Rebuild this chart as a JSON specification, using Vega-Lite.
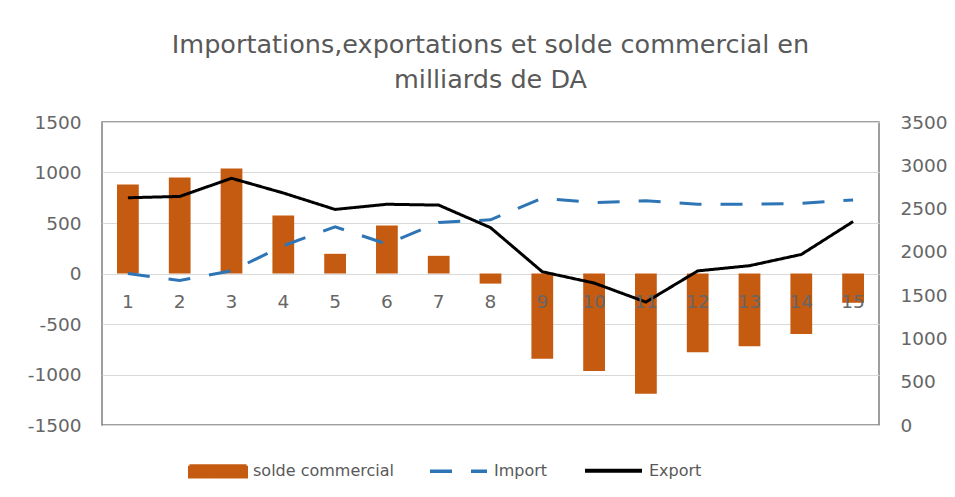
{
  "$schema": "https://vega.github.io/schema/vega-lite/v6.json",
  "width": 777,
  "height": 303,
  "autosize": {"type": "none"},
  "padding": {"left": 102, "top": 122, "right": 76, "bottom": 72},
  "background": "white",
  "config": {
    "font": "DejaVu Sans",
    "view": {"stroke": "#7f7f7f", "strokeWidth": 1.5},
    "axis": {"labelColor": "#666666", "labelFontSize": 18.5, "domain": false, "ticks": false, "titleColor": "#666666"}
  },
  "title": {
    "text": ["Importations,exportations et solde commercial en", "milliards de DA"],
    "fontSize": 25.5,
    "fontWeight": "normal",
    "color": "#595959",
    "anchor": "middle",
    "lineHeight": 35,
    "offset": 20
  },
  "data": {
    "values": [
      {"p": 1, "series": "solde commercial", "value": 880},
      {"p": 2, "series": "solde commercial", "value": 950},
      {"p": 3, "series": "solde commercial", "value": 1040},
      {"p": 4, "series": "solde commercial", "value": 575},
      {"p": 5, "series": "solde commercial", "value": 195},
      {"p": 6, "series": "solde commercial", "value": 475},
      {"p": 7, "series": "solde commercial", "value": 175},
      {"p": 8, "series": "solde commercial", "value": -100},
      {"p": 9, "series": "solde commercial", "value": -845},
      {"p": 10, "series": "solde commercial", "value": -965},
      {"p": 11, "series": "solde commercial", "value": -1190},
      {"p": 12, "series": "solde commercial", "value": -780},
      {"p": 13, "series": "solde commercial", "value": -720},
      {"p": 14, "series": "solde commercial", "value": -600},
      {"p": 15, "series": "solde commercial", "value": -290},
      {"p": 1, "series": "Import", "value": 1750},
      {"p": 2, "series": "Import", "value": 1670},
      {"p": 3, "series": "Import", "value": 1780},
      {"p": 4, "series": "Import", "value": 2070},
      {"p": 5, "series": "Import", "value": 2290},
      {"p": 6, "series": "Import", "value": 2090},
      {"p": 7, "series": "Import", "value": 2340},
      {"p": 8, "series": "Import", "value": 2370},
      {"p": 9, "series": "Import", "value": 2620},
      {"p": 10, "series": "Import", "value": 2570},
      {"p": 11, "series": "Import", "value": 2590},
      {"p": 12, "series": "Import", "value": 2550},
      {"p": 13, "series": "Import", "value": 2550},
      {"p": 14, "series": "Import", "value": 2560},
      {"p": 15, "series": "Import", "value": 2600},
      {"p": 1, "series": "Export", "value": 2625},
      {"p": 2, "series": "Export", "value": 2640},
      {"p": 3, "series": "Export", "value": 2850},
      {"p": 4, "series": "Export", "value": 2680},
      {"p": 5, "series": "Export", "value": 2490},
      {"p": 6, "series": "Export", "value": 2550},
      {"p": 7, "series": "Export", "value": 2540},
      {"p": 8, "series": "Export", "value": 2280},
      {"p": 9, "series": "Export", "value": 1770},
      {"p": 10, "series": "Export", "value": 1640},
      {"p": 11, "series": "Export", "value": 1420},
      {"p": 12, "series": "Export", "value": 1780},
      {"p": 13, "series": "Export", "value": 1840},
      {"p": 14, "series": "Export", "value": 1970},
      {"p": 15, "series": "Export", "value": 2350}
    ]
  },
  "encoding": {
    "x": {
      "field": "p",
      "type": "ordinal",
      "scale": {"paddingInner": 0.58, "paddingOuter": 0.29},
      "axis": {"title": null, "labelAngle": 0, "offset": -151.5, "labelPadding": 19, "grid": false, "zindex": 1}
    },
    "color": {
      "field": "series",
      "type": "nominal",
      "scale": {"domain": ["solde commercial", "Import", "Export"], "range": ["#C55A11", "#2E75B6", "#000000"]},
      "legend": {
        "title": null,
        "orient": "none",
        "direction": "horizontal",
        "legendX": 86,
        "legendY": 318,
        "labelFontSize": 16,
        "labelColor": "#595959",
        "labelOffset": 5,
        "columnPadding": 29,
        "symbolSize": 3249,
        "encode": {
          "symbols": {
            "update": {
              "shape": {"signal": "datum.value === 'solde commercial' ? 'M-1,-0.5M-1,-0.2H1V0.2H-1ZM1,0.5' : 'M-1,-0.5M-1,0H1M1,0.5'"},
              "fill": {"signal": "datum.value === 'solde commercial' ? '#C55A11' : 'transparent'"},
              "stroke": {"signal": "datum.value === 'Import' ? '#2E75B6' : (datum.value === 'Export' ? '#000000' : 'transparent')"},
              "strokeDash": {"signal": "datum.value === 'Import' ? [20, 17] : [1, 0]"},
              "strokeWidth": {"signal": "datum.value === 'Import' ? 4 : 3"},
              "opacity": {"value": 1}
            }
          }
        }
      }
    }
  },
  "layer": [
    {
      "transform": [{"filter": "datum.series === 'solde commercial'"}],
      "mark": {"type": "bar"},
      "encoding": {
        "y": {
          "field": "value",
          "type": "quantitative",
          "scale": {"domain": [-1500, 1500], "nice": false},
          "axis": {"title": null, "values": [-1500, -1000, -500, 0, 500, 1000, 1500], "labelExpr": "'' + datum.value", "labelPadding": 21, "grid": true, "gridColor": "#d9d9d9", "zindex": 0}
        }
      }
    },
    {
      "transform": [{"filter": "datum.series !== 'solde commercial'"}],
      "mark": {"type": "line", "strokeWidth": 3},
      "encoding": {
        "y": {
          "field": "value",
          "type": "quantitative",
          "scale": {"domain": [0, 3500], "nice": false},
          "axis": {"title": null, "orient": "right", "values": [0, 500, 1000, 1500, 2000, 2500, 3000, 3500], "labelExpr": "'' + datum.value", "labelPadding": 21, "grid": false}
        },
        "strokeDash": {
          "field": "series",
          "type": "nominal",
          "scale": {"domain": ["solde commercial", "Import", "Export"], "range": [[1, 0], [22, 19], [1, 0]]},
          "legend": null
        },
        "strokeWidth": {
          "field": "series",
          "type": "nominal",
          "scale": {"domain": ["solde commercial", "Import", "Export"], "range": [3, 4, 3]},
          "legend": null
        }
      }
    }
  ],
  "resolve": {"scale": {"y": "independent"}}
}
